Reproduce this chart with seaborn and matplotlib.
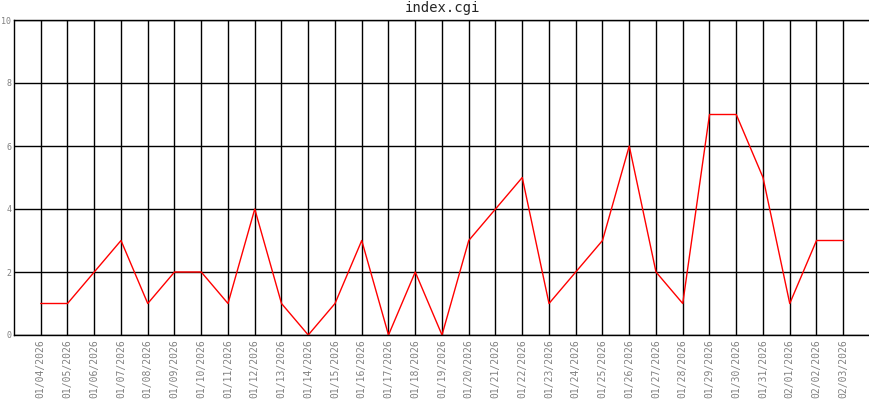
import numpy as np
import pandas as pd
import matplotlib
matplotlib.use('Agg')
import matplotlib.pyplot as plt
import seaborn as sns

# 数据
dates = ['01/04/2026', '01/05/2026', '01/06/2026', '01/07/2026', '01/08/2026',
         '01/09/2026', '01/10/2026', '01/11/2026', '01/12/2026', '01/13/2026',
         '01/14/2026', '01/15/2026', '01/16/2026', '01/17/2026', '01/18/2026',
         '01/19/2026', '01/20/2026', '01/21/2026', '01/22/2026', '01/23/2026',
         '01/24/2026', '01/25/2026', '01/26/2026', '01/27/2026', '01/28/2026',
         '01/29/2026', '01/30/2026', '01/31/2026', '02/01/2026', '02/02/2026',
         '02/03/2026']
hits = [1, 1, 2, 3, 1, 2, 2, 1, 4, 1, 0, 1, 3, 0, 2, 0, 3, 4, 5, 1,
        2, 3, 6, 2, 1, 7, 7, 5, 1, 3, 3]
y_ticks = [0, 2, 4, 6, 8, 10]

sns.set_style('white')
plt.rcParams['font.family'] = ['DejaVu Sans Mono']

df = pd.DataFrame({'pos': np.arange(len(dates)), 'hits': hits})

fig = plt.figure(figsize=(8.7, 4.0), dpi=100)
ax = fig.add_axes([14 / 870, 65 / 400, 1 - 14 / 870, 315 / 400])

sns.lineplot(data=df, x='pos', y='hits', color='red', linewidth=1.0, ax=ax)

ax.set_xlim(-1, len(dates))
ax.set_ylim(0, 10)
ax.set_xticks(df['pos'])
ax.set_xticklabels(dates, rotation=90, fontsize=7, color='#808080')
ax.set_yticks(y_ticks)
ax.set_yticklabels([str(v) for v in y_ticks], fontsize=6, color='#808080')
ax.tick_params(length=0, pad=3)
ax.tick_params(axis='y', pad=2)
ax.grid(True, color='black', linewidth=1.0)
ax.set_axisbelow(True)
for side in ['left', 'bottom', 'top']:
    ax.spines[side].set_color('black')
    ax.spines[side].set_linewidth(1.0)
ax.spines['right'].set_visible(False)
ax.set_xlabel('')
ax.set_ylabel('')
fig.text(442 / 870, 1 - 8 / 400, 'index.cgi', ha='center', va='center', fontsize=10)

fig.savefig('out.png', dpi=100)
